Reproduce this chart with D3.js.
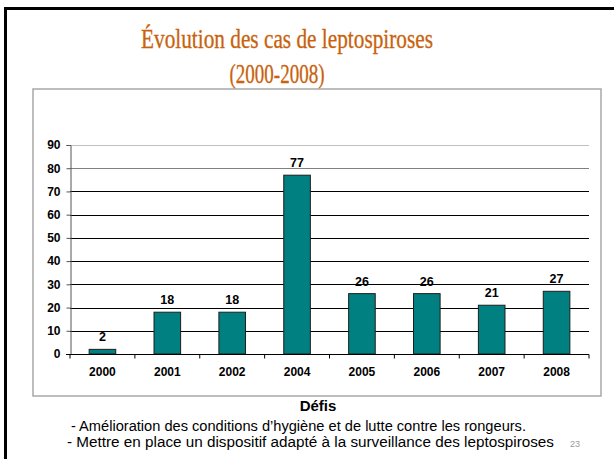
<!DOCTYPE html>
<html lang="fr">
<head>
  <meta charset="UTF-8">
  <title>Évolution des cas de leptospiroses</title>
  <script src="https://d3js.org/d3.v7.min.js"></script>
  <style>
    body { margin: 0; background: white; }
    svg { display: block; font-family: "Liberation Sans", Arial, sans-serif; }
  </style>
</head>
<body>
  <div id="chart"></div>
  <script>
    const years = ["2000", "2001", "2002", "2004", "2005", "2006", "2007", "2008"];
    const cases = [2, 18, 18, 77, 26, 26, 21, 27];
    const yTicks = [0, 10, 20, 30, 40, 50, 60, 70, 80, 90];
    const notes = [
      "- Amélioration des conditions d’hygiène et de lutte contre les rongeurs.",
      "- Mettre en place un dispositif adapté à la surveillance des leptospiroses"
    ];

    const width = 614, height = 459;

    const svg = d3.select("#chart").append("svg")
        .attr("width", width)
        .attr("height", height);

    // slide frame
    svg.append("rect")
      .attr("x", 5.5).attr("y", 8.5)
      .attr("width", 700).attr("height", 600)
      .attr("fill", "white")
      .attr("stroke", "#000")
      .attr("stroke-width", 3);

    // title
    const title = svg.append("g")
      .attr("font-family", "'Liberation Serif', 'DejaVu Serif', serif")
      .attr("fill", "#c8620c")
      .attr("stroke", "#c8620c")
      .attr("stroke-width", 0.3)
      .attr("text-anchor", "middle");
    title.append("text")
      .attr("x", 287).attr("y", 48)
      .attr("font-size", 27)
      .attr("textLength", 292)
      .attr("lengthAdjust", "spacingAndGlyphs")
      .text("Évolution des cas de leptospiroses");
    title.append("text")
      .attr("x", 277).attr("y", 83)
      .attr("font-size", 27)
      .attr("textLength", 95)
      .attr("lengthAdjust", "spacingAndGlyphs")
      .text("(2000-2008)");

    // chart box
    svg.append("rect")
      .attr("x", 33).attr("y", 89)
      .attr("width", 568).attr("height", 307)
      .attr("fill", "white")
      .attr("stroke", "#a8a8a8")
      .attr("stroke-width", 1.5);

    const x = d3.scaleBand()
      .domain(years)
      .range([70, 589])
      .paddingInner(0.59)
      .paddingOuter(0.295);

    const y = d3.scaleLinear()
      .domain([0, 90])
      .range([354, 145]);

    // gridlines
    svg.append("g")
      .selectAll("line")
      .data(yTicks.filter(d => d > 0))
      .join("line")
      .attr("x1", 70).attr("x2", 589)
      .attr("y1", d => Math.round(y(d)) + 0.5)
      .attr("y2", d => Math.round(y(d)) + 0.5)
      .attr("stroke", d => d === 90 ? "#c0c0c0" : d === 80 ? "#808080" : "#000")
      .attr("stroke-width", 1);

    // y axis
    const yAxis = svg.append("g")
      .attr("transform", "translate(70.5,0)")
      .call(d3.axisLeft(y).tickValues(yTicks).tickSize(4).tickPadding(6));
    yAxis.select(".domain").attr("stroke", "#555");
    yAxis.selectAll(".tick line").attr("stroke", "#555");
    yAxis.selectAll(".tick text")
      .attr("font-size", 12)
      .attr("font-weight", "bold")
      .attr("font-family", "'Liberation Sans', Arial, sans-serif")
      .attr("fill", "#000");

    // bars
    svg.append("g")
      .selectAll("rect")
      .data(years)
      .join("rect")
      .attr("x", d => x(d))
      .attr("y", (d, i) => y(cases[i]))
      .attr("width", x.bandwidth())
      .attr("height", (d, i) => y(0) - y(cases[i]))
      .attr("fill", "#008080")
      .attr("stroke", "#1e1e1e")
      .attr("stroke-width", 1);

    // x axis
    const xAxisG = svg.append("g").attr("transform", "translate(0,354.5)");
    xAxisG.append("line")
      .attr("x1", 66).attr("x2", 589)
      .attr("stroke", "#000");
    const boundaries = d3.range(years.length + 1).map(i => 70 + i * x.step());
    xAxisG.selectAll("line.tk")
      .data(boundaries)
      .join("line")
      .attr("class", "tk")
      .attr("x1", d => d).attr("x2", d => d)
      .attr("y1", 0).attr("y2", 4)
      .attr("stroke", "#000");
    xAxisG.selectAll("text")
      .data(years)
      .join("text")
      .attr("x", d => x(d) + x.bandwidth() / 2)
      .attr("y", 21)
      .attr("text-anchor", "middle")
      .attr("font-size", 12)
      .attr("font-weight", "bold")
      .text(d => d);

    // value labels
    svg.append("g")
      .selectAll("text")
      .data(years)
      .join("text")
      .attr("x", d => x(d) + x.bandwidth() / 2)
      .attr("y", (d, i) => y(cases[i]) - 8)
      .attr("text-anchor", "middle")
      .attr("font-size", 12.5)
      .attr("font-weight", "bold")
      .text((d, i) => cases[i]);

    // footer
    svg.append("text")
      .attr("x", 318).attr("y", 411)
      .attr("text-anchor", "middle")
      .attr("font-size", 15)
      .attr("font-weight", "bold")
      .text("Défis");
    svg.append("text")
      .attr("x", 71).attr("y", 431)
      .attr("font-size", 15.5)
      .attr("textLength", 455)
      .attr("lengthAdjust", "spacingAndGlyphs")
      .text(notes[0]);
    svg.append("text")
      .attr("x", 67).attr("y", 447)
      .attr("font-size", 15.5)
      .attr("textLength", 487)
      .attr("lengthAdjust", "spacingAndGlyphs")
      .text(notes[1]);
    svg.append("text")
      .attr("x", 570).attr("y", 447)
      .attr("font-size", 9)
      .attr("fill", "#999")
      .text("23");
  </script>
</body>
</html>
